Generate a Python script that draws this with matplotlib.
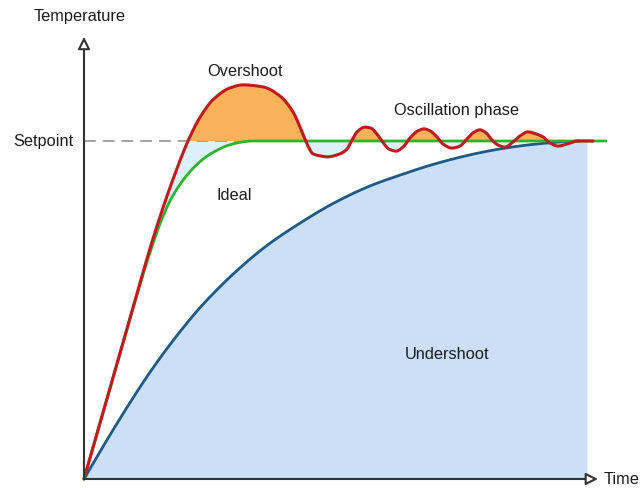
import numpy as np
import matplotlib
matplotlib.use("Agg")
import matplotlib.pyplot as plt

plt.rcParams['font.family'] = ['Liberation Sans', 'DejaVu Sans']
plt.rcParams['lines.scale_dashes'] = False

# time (arbitrary units) and temperature (% of setpoint)
setpoint = 100.0

red_t = [0, 1.6, 3.3, 5.0, 6.6, 7.6, 9.0, 10.4, 11.6, 12.9, 14.6, 15.9, 17.9, 19.6, 20.9,
         21.8, 22.3, 22.9, 23.6, 24.3, 25.6, 26.3, 26.8, 27.3, 28.1, 28.7, 29.2, 29.8,
         30.5, 31.2, 31.9, 32.6, 33.4, 34.0, 34.6, 35.3, 35.9, 36.8, 37.6, 38.2, 38.9,
         39.6, 40.2, 40.8, 41.4, 42.1, 42.9, 43.6, 44.4, 45.2, 45.9, 46.6, 47.4, 48.3,
         49.4, 50.9]
red_T = [0, 16.6, 34.2, 51.8, 68.2, 77.6, 89.5, 100.0, 107.0, 112.2, 115.7, 116.6, 116.0, 113.3, 108.6,
         102.7, 99.1, 96.2, 95.6, 95.3, 96.2, 97.6, 100.3, 102.7, 104.1, 103.8, 102.4, 100.0,
         97.6, 97.0, 98.2, 100.9, 103.0, 103.6, 103.0, 101.2, 99.1, 97.9, 98.5, 100.3, 102.4,
         103.3, 102.4, 100.3, 98.8, 98.2, 99.7, 101.5, 102.7, 102.1, 101.2, 99.4, 98.5, 99.1,
         100.0, 100.0]

green_t = [0, 3.3, 5.0, 6.6, 7.6, 8.6, 9.8, 10.9, 12.2, 13.6, 14.6, 15.6, 16.8, 52.2]
green_T = [0, 34.0, 51.5, 67.0, 75.5, 82.3, 88.0, 91.9, 95.3, 97.7, 98.9, 99.6, 100.0, 100.0]

blue_t = [0, 1.4, 2.9, 4.6, 6.3, 8.1, 9.9, 11.6, 13.2, 14.9, 18.3, 21.6, 24.9, 28.6,
          31.6, 34.6, 37.6, 40.9, 44.3, 46.3, 48.1, 49.6]
blue_T = [0, 7.1, 14.5, 22.6, 30.3, 37.8, 44.7, 50.7, 55.7, 60.6, 69.1, 75.7, 81.5, 86.7,
          89.9, 92.8, 95.2, 97.3, 98.8, 99.4, 99.8, 100.0]
undershoot_end = 50.3

labels = {"Overshoot": (16.1, 121.0), "Ideal": (15.0, 84.3),
          "Oscillation phase": (37.3, 109.2), "Undershoot": (36.35, 37.0)}


def smooth(x, y, n=24):
    """Draw a smooth monotone-cubic line through the read points (rendering only)."""
    x = np.asarray(x, float)
    y = np.asarray(y, float)
    h = np.diff(x)
    d = np.diff(y) / h
    m = np.zeros_like(y)
    m[0], m[-1] = d[0], d[-1]
    for k in range(1, len(x) - 1):
        if d[k - 1] * d[k] > 0:
            w1 = 2 * h[k] + h[k - 1]
            w2 = h[k] + 2 * h[k - 1]
            m[k] = (w1 + w2) / (w1 / d[k - 1] + w2 / d[k])
    xs, ys = [], []
    s = np.linspace(0, 1, n, endpoint=False)
    h00 = 2 * s**3 - 3 * s**2 + 1
    h10 = s**3 - 2 * s**2 + s
    h01 = -2 * s**3 + 3 * s**2
    h11 = s**3 - s**2
    for i in range(len(x) - 1):
        xs.append(x[i] + s * h[i])
        ys.append(h00 * y[i] + h10 * h[i] * m[i] + h01 * y[i + 1] + h11 * h[i] * m[i + 1])
    xs.append([x[-1]])
    ys.append([y[-1]])
    return np.concatenate(xs), np.concatenate(ys)


rx, ry = smooth(red_t, red_T)
gx, gy = smooth(green_t, green_T)
bx, by = smooth(blue_t, blue_T)

fig = plt.figure(figsize=(6.41, 4.89), dpi=100)
ax = fig.add_axes([0, 0, 1, 1])
ax.set_xlim(-8.4, 55.7)
ax.set_ylim(-2.663, 142.01)
ax.axis('off')

# undershoot area
ut = np.append(bx, undershoot_end)
uT = np.append(by, setpoint)
ax.fill_between(ut, uT, 0, color='#cbe0f6', lw=0, zorder=1)

# ideal (light cyan) area between response and ideal curve below setpoint
g_on_r = np.interp(rx, gx, gy)
ax.fill_between(rx, np.minimum(ry, setpoint), g_on_r, color='#dcf0fa', lw=0, zorder=2)

# overshoot area
ax.fill_between(rx, ry, setpoint, where=ry >= setpoint, interpolate=True,
                color='#f8b25a', lw=0, zorder=3)

# setpoint dashed line
ax.plot([0, green_t[-2]], [setpoint, setpoint], color='#8c8c8c', lw=1.1,
        dashes=(8.5, 5), zorder=2.5)

# curves
ax.plot(bx, by, color='#1f5a87', lw=2.0, zorder=5, solid_capstyle='round')
ax.plot(gx, gy, color='#2cb42c', lw=2.0, zorder=6, solid_capstyle='round')
ax.plot(rx, ry, color='#c01a1e', lw=2.2, zorder=7, solid_capstyle='round')

# axes with hollow arrowheads
arrow_kw = dict(arrowstyle='-|>', fc='white', ec='#333333', lw=1.5, mutation_scale=18,
                shrinkA=0, shrinkB=0)
ax.annotate('', xy=(0, 130.8), xytext=(0, 0), arrowprops=arrow_kw, zorder=8)
ax.annotate('', xy=(51.4, 0), xytext=(0, 0), arrowprops=arrow_kw, zorder=8)

txt = dict(fontsize=11.8, color='#1c1c1c')
ax.text(-0.4, 137.0, 'Temperature', ha='center', va='center', **txt)
ax.text(-1.1, setpoint, 'Setpoint', ha='right', va='center', **txt)
ax.text(52.0, 0, 'Time', ha='left', va='center', **txt)
for s, (x, y) in labels.items():
    ax.text(x, y, s, ha='center', va='center', zorder=9, **txt)

fig.savefig('out.png', dpi=100)
